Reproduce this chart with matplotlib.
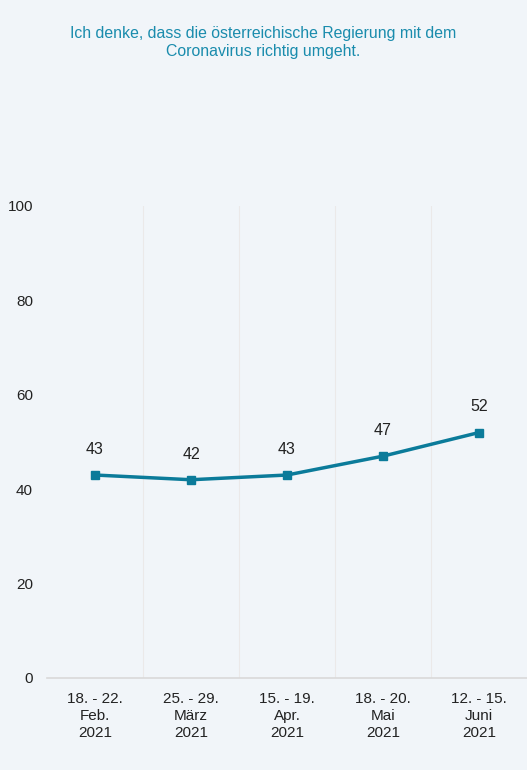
import matplotlib
matplotlib.use("Agg")
import matplotlib.pyplot as plt

categories = ["18. - 22.\nFeb.\n2021", "25. - 29.\nMärz\n2021", "15. - 19.\nApr.\n2021",
              "18. - 20.\nMai\n2021", "12. - 15.\nJuni\n2021"]
values = [43, 42, 43, 47, 52]
yticks = [0, 20, 40, 60, 80, 100]
title = "Ich denke, dass die österreichische Regierung mit dem\nCoronavirus richtig umgeht."

plt.rcParams['font.family'] = ['Liberation Sans', 'DejaVu Sans']
bg = "#f1f5f9"
line_color = "#0b7b9a"

fig = plt.figure(figsize=(5.27, 7.70), dpi=100, facecolor=bg)
ax = fig.add_axes([0.0892, 0.1195, 0.9108, 0.613])
ax.set_facecolor(bg)

x = list(range(len(values)))
ax.plot(x, values, color=line_color, lw=2.5, marker='s', markersize=6, zorder=3)
for xi, v in zip(x, values):
    ax.annotate(str(v), (xi, v), xytext=(0, 18.5), textcoords='offset points',
                ha='center', va='center', fontsize=11.5, color='#222222')

ax.set_xlim(-0.5, len(values) - 0.5)
ax.set_ylim(0, 100)
ax.set_yticks(yticks)
ax.set_xticks(x)
ax.set_xticklabels(categories, fontsize=11, color='#222222', linespacing=1.3)
ax.tick_params(axis='y', length=0, labelsize=11, labelcolor='#222222', pad=10)
ax.tick_params(axis='x', length=0, pad=10)

for b in [i + 0.5 for i in range(len(values) - 1)]:
    ax.axvline(b, color='#ebe9e9', lw=0.8, zorder=0)

for s in ['top', 'right', 'left']:
    ax.spines[s].set_visible(False)
ax.spines['bottom'].set_color('#d9d9d9')
ax.spines['bottom'].set_linewidth(1.2)

fig.text(0.5, 0.966, title, ha='center', va='top', fontsize=11.4, color='#1a8cad',
         linespacing=1.25)

fig.savefig("out.png", dpi=100, facecolor=bg)
